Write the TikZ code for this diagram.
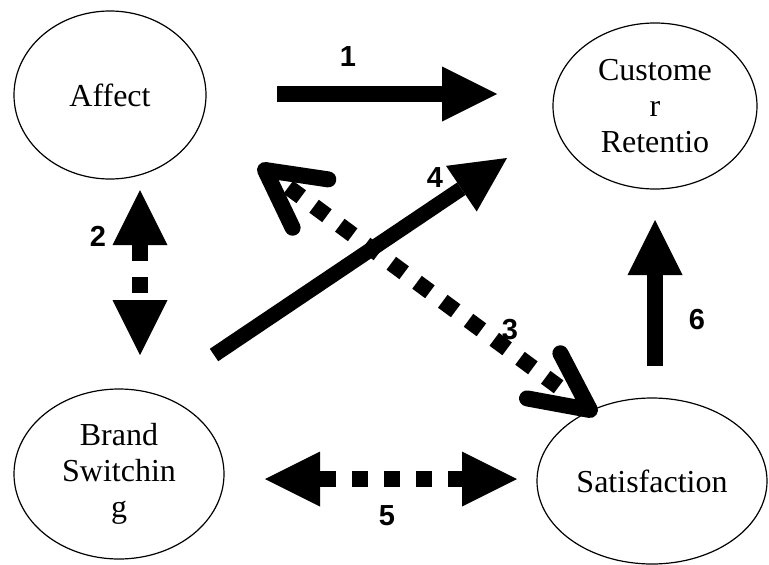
\documentclass[tikz,border=0pt]{standalone}
\usepackage{fontspec}
\setmainfont{Liberation Serif}
\newfontfamily\labelfont{Liberation Sans}
\usetikzlibrary{shapes.geometric,arrows.meta,calc}

\tikzset{
  construct/.style={draw, ellipse, line width=1.2pt, inner sep=0pt, align=center,
    font=\fontsize{32pt}{36pt}\selectfont},
  pathlabel/.style={font=\labelfont\bfseries\fontsize{29pt}{29pt}\selectfont, inner sep=0pt},
  bigtip/.tip={Triangle[length=55pt, width=55pt, line width=0pt]},
  solidlink/.style={line width=16pt, -bigtip},
  dottedlink/.style={line width=16pt, dash pattern=on 16pt off 16pt, bigtip-bigtip},
  chevron/.style={line width=16pt, line cap=round, line join=round},
  dotrow/.style={line width=16pt, dash pattern=on 16pt off 16pt}
}

\begin{document}
\begin{tikzpicture}[x=1pt, y=-1pt]
  \useasboundingbox (0,0) rectangle (769,565);

  % constructs
  \node[construct, minimum width=192pt, minimum height=168pt] (affect) at (110,95) {Affect};
  \node[construct, minimum width=204pt, minimum height=166pt] (retention) at (655,106) {Custome\\r\\Retentio};
  \node[construct, minimum width=210pt, minimum height=170pt] (switching) at (119,474) {Brand\\Switchin\\g};
  \node[construct, minimum width=230pt, minimum height=166pt] (satisfaction) at (652,481) {Satisfaction};

  % end points of the paths
  \coordinate (p1s) at (277,94);  \coordinate (p1e) at (497,94);
  \coordinate (p2s) at (140,190); \coordinate (p2e) at (140,355);
  \coordinate (p3s) at (265,170); \coordinate (p3e) at (590,410);
  \coordinate (p4s) at (214,355); \coordinate (p4e) at (507,158);
  \coordinate (p5s) at (265,479); \coordinate (p5e) at (517,479);
  \coordinate (p6s) at (655,366); \coordinate (p6e) at (655,220);

  % path 1: affect -> retention
  \draw[solidlink] (p1s) -- (p1e);
  % path 2: affect <-> brand switching
  \draw[dottedlink] (p2s) -- (p2e);
  % path 3: affect <-> satisfaction (open heads)
  \draw[dotrow] ($(p3s)!29pt!(p3e)$) -- ($(p3e)!37pt!(p3s)$);
  \draw[chevron] ($(p3s)!64pt!28:(p3e)$) -- (p3s) -- ($(p3s)!64pt!-28:(p3e)$);
  \draw[chevron] ($(p3e)!64pt!26:(p3s)$) -- (p3e) -- ($(p3e)!64pt!-26:(p3s)$);
  % path 4: brand switching -> retention
  \draw[solidlink, line width=15pt] (p4s) -- (p4e);
  % path 5: brand switching <-> satisfaction
  \draw[dottedlink] (p5s) -- (p5e);
  % path 6: satisfaction -> retention
  \draw[solidlink] (p6s) -- (p6e);

  % path numbers
  \node[pathlabel] (n1) at (348,57) {1};
  \node[pathlabel] (n2) at (98,236) {2};
  \node[pathlabel] (n3) at (510,330) {3};
  \node[pathlabel] (n4) at (435,178) {4};
  \node[pathlabel] (n5) at (387,516) {5};
  \node[pathlabel] (n6) at (697,320) {6};
\end{tikzpicture}
\end{document}
